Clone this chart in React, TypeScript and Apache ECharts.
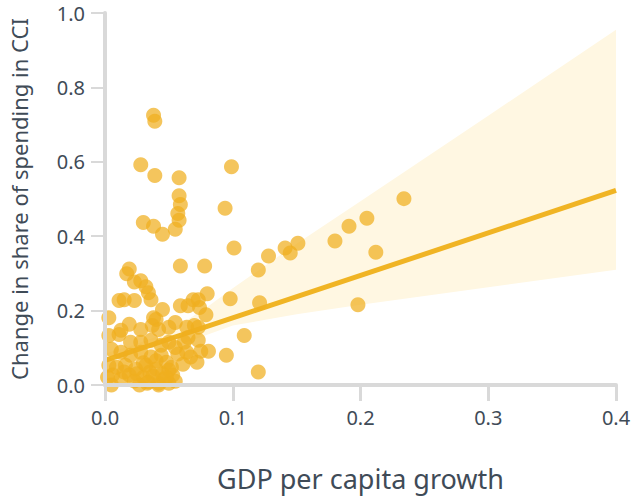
import React, { useEffect, useRef } from "react";
import * as echarts from "echarts";

// GDP per capita growth (x) vs change in share of spending in CCI (y)
const pointsX: number[] = [
  0.038, 0.039, 0.028, 0.039, 0.058, 0.099, 0.058, 0.059, 0.057, 0.058,
  0.094, 0.030, 0.038, 0.045, 0.055, 0.101, 0.059, 0.078, 0.128, 0.141,
  0.145, 0.151, 0.180, 0.191, 0.205, 0.212, 0.234, 0.198, 0.120, 0.121,
  0.120, 0.109, 0.095, 0.098, 0.080,
  0.019, 0.017, 0.023, 0.028, 0.032, 0.034, 0.011, 0.015, 0.023, 0.036,
  0.059, 0.045, 0.038, 0.040, 0.069, 0.073, 0.074, 0.079, 0.065, 0.019,
  0.011, 0.028, 0.037, 0.042, 0.050, 0.064, 0.070, 0.073, 0.065, 0.062,
  0.073, 0.075, 0.081, 0.061, 0.057, 0.052, 0.003, 0.003, 0.005, 0.003,
  0.0125, 0.020, 0.028, 0.036, 0.044, 0.050, 0.055, 0.0125, 0.020, 0.028,
  0.036, 0.044, 0.048, 0.009, 0.016, 0.024, 0.032, 0.040, 0.002, 0.006,
  0.0125, 0.019, 0.023, 0.030, 0.034, 0.0375, 0.042, 0.046, 0.050, 0.053,
  0.005, 0.027, 0.042, 0.067, 0.072, 0.064, 0.055,
  0.025, 0.035, 0.045, 0.030, 0.040, 0.050, 0.055, 0.015, 0.048, 0.033,
];
const pointsY: number[] = [
  0.725, 0.709, 0.592, 0.563, 0.557, 0.587, 0.509, 0.485, 0.461, 0.443,
  0.475, 0.437, 0.427, 0.405, 0.419, 0.368, 0.320, 0.320, 0.347, 0.368,
  0.355, 0.381, 0.387, 0.427, 0.448, 0.357, 0.501, 0.216, 0.309, 0.221,
  0.035, 0.133, 0.080, 0.232, 0.245,
  0.312, 0.299, 0.277, 0.280, 0.264, 0.248, 0.227, 0.229, 0.227, 0.229,
  0.213, 0.203, 0.181, 0.176, 0.229, 0.229, 0.208, 0.189, 0.213, 0.163,
  0.136, 0.149, 0.160, 0.149, 0.155, 0.155, 0.160, 0.155, 0.128, 0.115,
  0.120, 0.091, 0.091, 0.056, 0.083, 0.048, 0.181, 0.133, 0.096, 0.053,
  0.147, 0.115, 0.115, 0.120, 0.107, 0.115, 0.101, 0.088, 0.080, 0.088,
  0.075, 0.080, 0.061, 0.048, 0.053, 0.043, 0.053, 0.043, 0.021, 0.027,
  0.016, 0.027, 0.011, 0.021, 0.008, 0.024, 0.005, 0.016, 0.005, 0.027,
  0.0, 0.0, 0.0, 0.075, 0.061, 0.088, 0.168,
  0.030, 0.035, 0.030, 0.060, 0.065, 0.040, 0.010, 0.035, 0.020, 0.005,
];

// fitted line end points
const fitX: number[] = [0, 0.4];
const fitY: number[] = [0.066, 0.523];

// confidence band
const bandX: number[] = [0, 0.02, 0.04, 0.06, 0.08, 0.1, 0.15, 0.2, 0.3, 0.4];
const bandUpper: number[] = [0.085, 0.105, 0.13, 0.165, 0.21, 0.26, 0.38, 0.494, 0.724, 0.955];
const bandLower: number[] = [0.035, 0.06, 0.085, 0.11, 0.135, 0.16, 0.19, 0.216, 0.263, 0.31];

const xTicks = { min: 0, max: 0.4, interval: 0.1 };
const yTicks = { min: 0, max: 1.0, interval: 0.2 };

const TEXT = "#3f4b57";
const AXIS = "#d9d9d9";
const FONT = "'Noto Sans', sans-serif";

export default function App() {
  const ref = useRef<HTMLDivElement>(null);
  useEffect(() => {
    if (!ref.current) return;
    const chart = echarts.init(ref.current, undefined, { renderer: "svg" });
    const scatterData = pointsX.map((x, i) => [x, pointsY[i]]);
    chart.setOption({
      animation: false,
      backgroundColor: "#ffffff",
      grid: { left: 104, right: 18, top: 13, bottom: 109, containLabel: false },
      xAxis: {
        type: "value",
        ...xTicks,
        z: 10,
        name: "GDP per capita growth",
        nameLocation: "middle",
        nameGap: 80,
        nameTextStyle: { fontSize: 27, color: TEXT, fontFamily: FONT },
        axisLine: { show: true, onZero: false, lineStyle: { color: AXIS, width: 4 } },
        axisTick: { show: true, length: 16, lineStyle: { color: AXIS, width: 3 } },
        splitLine: { show: false },
        axisLabel: {
          fontSize: 20,
          color: TEXT,
          fontFamily: FONT,
          margin: 22,
          formatter: (v: number) => v.toFixed(1),
        },
      },
      yAxis: {
        type: "value",
        ...yTicks,
        z: 10,
        name: "Change in share of spending in CCI",
        nameLocation: "middle",
        nameGap: 75,
        nameTextStyle: { fontSize: 22, color: TEXT, fontFamily: FONT },
        axisLine: { show: true, onZero: false, lineStyle: { color: AXIS, width: 4 } },
        axisTick: { show: true, length: 14, lineStyle: { color: AXIS, width: 2 } },
        splitLine: { show: false },
        axisLabel: {
          fontSize: 20,
          color: TEXT,
          fontFamily: FONT,
          margin: 20,
          formatter: (v: number) => v.toFixed(1),
        },
      },
      series: [
        {
          type: "custom",
          z: 1,
          silent: true,
          data: [[0, 0]],
          renderItem: (_params: any, api: any) => {
            const pts: number[][] = [];
            for (let i = 0; i < bandX.length; i++) pts.push(api.coord([bandX[i], bandUpper[i]]));
            for (let i = bandX.length - 1; i >= 0; i--) pts.push(api.coord([bandX[i], bandLower[i]]));
            return { type: "polygon", shape: { points: pts }, style: { fill: "#fff7e2" } };
          },
        },
        {
          type: "line",
          z: 2,
          silent: true,
          symbol: "none",
          data: fitX.map((x, i) => [x, fitY[i]]),
          lineStyle: { color: "#f0b424", width: 5 },
        },
        {
          type: "scatter",
          z: 3,
          symbolSize: 15,
          data: scatterData,
          itemStyle: { color: "#f0ae1e", opacity: 0.72 },
        },
      ],
    });
    return () => chart.dispose();
  }, []);
  return <div ref={ref} style={{ width: 634, height: 497, position: "absolute", left: 0, top: 0 }} />;
}
